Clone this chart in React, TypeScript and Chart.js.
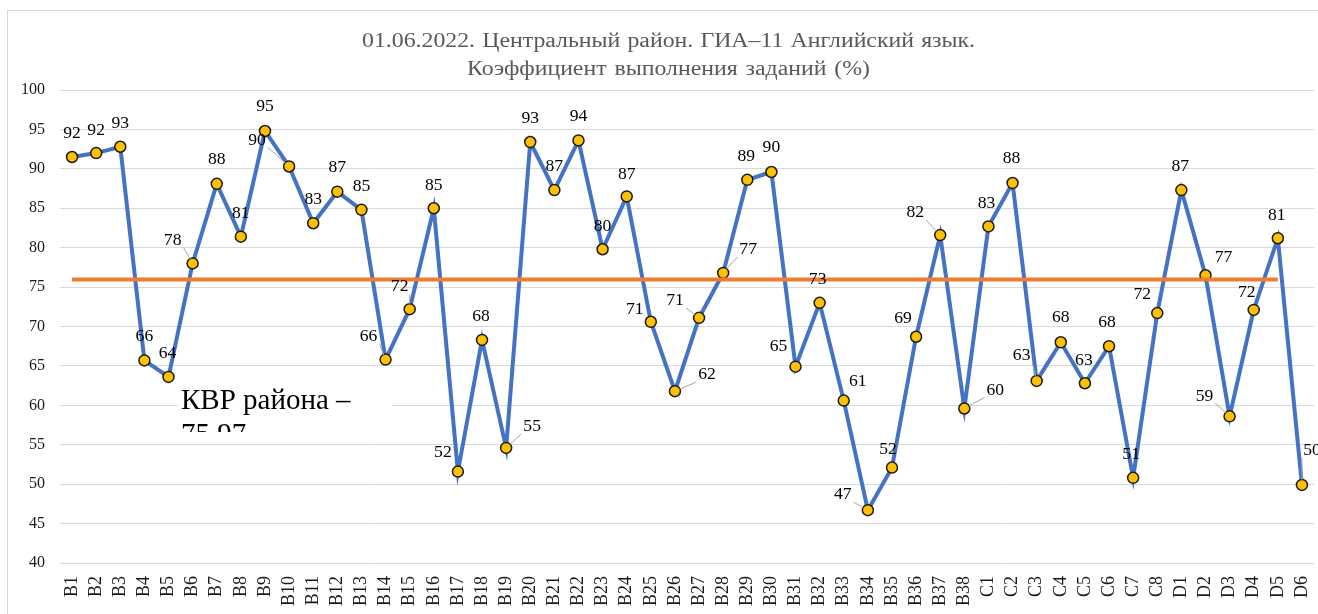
import React, { useEffect, useRef } from 'react';
import { Chart, registerables } from 'chart.js';

Chart.register(...registerables);

const FONT = "'Liberation Serif', 'Times New Roman', serif";

const titleLine1 = '01.06.2022. Центральный район. ГИА–11 Английский язык.';
const titleLine2 = 'Коэффициент выполнения заданий (%)';

const categories = [
  'B1', 'B2', 'B3', 'B4', 'B5', 'B6', 'B7', 'B8', 'B9', 'B10',
  'B11', 'B12', 'B13', 'B14', 'B15', 'B16', 'B17', 'B18', 'B19', 'B20',
  'B21', 'B22', 'B23', 'B24', 'B25', 'B26', 'B27', 'B28', 'B29', 'B30',
  'B31', 'B32', 'B33', 'B34', 'B35', 'B36', 'B37', 'B38',
  'C1', 'C2', 'C3', 'C4', 'C5', 'C6', 'C7', 'C8',
  'D1', 'D2', 'D3', 'D4', 'D5', 'D6',
];

const taskValues = [
  91.5, 92.0, 92.8, 65.7, 63.6, 78.0, 88.1, 81.4, 94.8, 90.3,
  83.1, 87.1, 84.8, 65.8, 72.2, 85.0, 51.6, 68.3, 54.6, 93.4,
  87.3, 93.6, 79.8, 86.5, 70.6, 61.8, 71.1, 76.8, 88.6, 89.6,
  64.9, 73.0, 60.6, 46.7, 52.1, 68.7, 81.6, 59.6,
  82.7, 88.2, 63.1, 68.0, 62.8, 67.5, 50.8, 71.7,
  87.3, 76.5, 58.6, 72.1, 81.2, 49.9,
];

const districtAverage = 75.97;
// the district line runs from B1 to D5
const averageSeries = [
  75.97, 75.97, 75.97, 75.97, 75.97, 75.97, 75.97, 75.97, 75.97, 75.97,
  75.97, 75.97, 75.97, 75.97, 75.97, 75.97, 75.97, 75.97, 75.97, 75.97,
  75.97, 75.97, 75.97, 75.97, 75.97, 75.97, 75.97, 75.97, 75.97, 75.97,
  75.97, 75.97, 75.97, 75.97, 75.97, 75.97, 75.97, 75.97,
  75.97, 75.97, 75.97, 75.97, 75.97, 75.97, 75.97, 75.97,
  75.97, 75.97, 75.97, 75.97, 75.97, null,
];

const yTicks = { min: 40, max: 100, step: 5 };

// label placement (layout only): [dx, dy, leader]
const labelPlacement: [number, number, boolean][] = [
  [0, -23, false], [0, -22, false], [0, -23, false], [0, -24, false], [-1, -23, false],
  [-20, -23, true], [0, -24, false], [0, -23, false], [0, -24, false], [-32, -26, true],
  [0, -23, false], [0, -24, false], [0, -23, false], [-17, -23, true], [-10, -22, true],
  [0, -22, false], [-15, -19, false], [-1, -23, false], [26, -21, true], [0, -23, false],
  [0, -23, false], [0, -24, false], [0, -22, false], [0, -22, false], [-16, -12, false],
  [32, -16, true], [-24, -17, true], [25, -23, true], [-1, -23, false], [0, -24, false],
  [-17, -20, false], [-2, -23, false], [14, -19, false], [-25, -15, true], [-4, -18, false],
  [-13, -18, false], [-25, -22, true], [31, -18, true],
  [-2, -23, false], [-1, -24, false], [-15, -25, true], [0, -24, false], [-1, -22, false],
  [-2, -23, false], [-2, -23, false], [-15, -18, false],
  [-1, -23, false], [18, -17, false], [-25, -20, true], [-7, -17, false], [-1, -22, false],
  [10, -34, true],
];

function drawJustified(
  ctx: CanvasRenderingContext2D,
  text: string,
  left: number,
  right: number,
  y: number,
  sx: number
) {
  const words = text.split(' ');
  const widths = words.map((w) => ctx.measureText(w).width * sx);
  const total = widths.reduce((a, b) => a + b, 0);
  const gap = words.length > 1 ? (right - left - total) / (words.length - 1) : 0;
  let x = left;
  ctx.textAlign = 'left';
  words.forEach((w, i) => {
    ctx.save();
    ctx.translate(x, y);
    ctx.scale(sx, 1);
    ctx.fillText(w, 0, 0);
    ctx.restore();
    x += widths[i] + gap;
  });
}

const decorPlugin = {
  id: 'decor',
  beforeDraw(chart: any) {
    const ctx: CanvasRenderingContext2D = chart.ctx;
    ctx.save();
    ctx.fillStyle = '#ffffff';
    ctx.fillRect(0, 0, chart.width, chart.height);
    ctx.strokeStyle = '#d9d9d9';
    ctx.lineWidth = 1;
    ctx.strokeRect(7.5, 10.5, 1400, 700);
    ctx.fillStyle = '#595959';
    ctx.font = `20px ${FONT}`;
    ctx.textBaseline = 'alphabetic';
    drawJustified(ctx, titleLine1, 362, 975, 47, 1.19);
    drawJustified(ctx, titleLine2, 467, 870, 75, 1.19);
    ctx.restore();
  },
  afterDatasetsDraw(chart: any) {
    const ctx: CanvasRenderingContext2D = chart.ctx;
    const meta = chart.getDatasetMeta(1);
    const sx = 1.1;
    ctx.save();
    ctx.font = `16px ${FONT}`;
    ctx.textAlign = 'center';
    ctx.textBaseline = 'middle';
    meta.data.forEach((pt: any, i: number) => {
      const v = taskValues[i];
      const [dx, dy, leader] = labelPlacement[i] || [0, -23, false];
      const lx = pt.x + dx;
      const ly = pt.y + dy;
      const txt = String(Math.round(v));
      const w = ctx.measureText(txt).width * sx;
      if (leader) {
        const cx = Math.min(Math.max(pt.x, lx - w / 2 - 2), lx + w / 2 + 2);
        const cy = Math.min(Math.max(pt.y, ly - 7), ly + 7);
        const ddx = pt.x - cx;
        const ddy = pt.y - cy;
        const len = Math.hypot(ddx, ddy);
        if (len > 8) {
          const ex = pt.x - (ddx / len) * 5;
          const ey = pt.y - (ddy / len) * 5;
          ctx.strokeStyle = '#a6a6a6';
          ctx.lineWidth = 1;
          ctx.beginPath();
          ctx.moveTo(cx, cy);
          ctx.lineTo(ex, ey);
          ctx.stroke();
        }
      }
      ctx.fillStyle = '#000000';
      ctx.save();
      ctx.translate(lx, ly);
      ctx.scale(sx, 1);
      ctx.fillText(txt, 0, 0);
      ctx.restore();
    });
    ctx.restore();
  },
  afterDraw(chart: any) {
    const ctx: CanvasRenderingContext2D = chart.ctx;
    ctx.save();
    ctx.fillStyle = '#ffffff';
    ctx.fillRect(178, 382, 214, 50);
    ctx.beginPath();
    ctx.rect(178, 382, 214, 50);
    ctx.clip();
    ctx.fillStyle = '#000000';
    ctx.font = `29px ${FONT}`;
    ctx.textAlign = 'left';
    ctx.textBaseline = 'alphabetic';
    ctx.fillText('КВР района –', 181, 409);
    ctx.fillText(districtAverage.toFixed(2).replace('.', ','), 181, 443);
    ctx.restore();
  },
};

export default function App() {
  const ref = useRef<HTMLCanvasElement>(null);
  useEffect(() => {
    if (!ref.current) return;
    const chart = new Chart(ref.current, {
      type: 'line',
      data: {
        labels: categories,
        datasets: [
          {
            label: 'КВР района',
            data: averageSeries,
            borderColor: '#ED7D31',
            borderWidth: 4,
            pointRadius: 0,
            fill: false,
            tension: 0,
          },
          {
            label: 'Коэффициент выполнения',
            data: taskValues,
            borderColor: '#4472C4',
            borderWidth: 4,
            pointRadius: 5.5,
            pointBackgroundColor: '#FFC000',
            pointBorderColor: '#1a1a1a',
            pointBorderWidth: 1.5,
            fill: false,
            tension: 0,
          },
        ],
      } as any,
      options: {
        responsive: false,
        animation: false,
        devicePixelRatio: 1,
        layout: { autoPadding: false, padding: { top: 90, right: 4, left: 0, bottom: 0 } },
        plugins: {
          legend: { display: false },
          title: { display: false },
          tooltip: { enabled: false },
        },
        scales: {
          x: {
            type: 'category',
            offset: true,
            grid: { display: false },
            border: { display: false },
            ticks: {
              autoSkip: false,
              minRotation: 90,
              maxRotation: 90,
              padding: 5,
              color: '#1a1a1a',
              font: { family: FONT, size: 18 },
            },
            afterFit: (s: any) => {
              s.height = 51;
              s.paddingLeft = 0;
              s.paddingRight = 0;
            },
          },
          y: {
            min: yTicks.min,
            max: yTicks.max,
            grid: { color: '#d9d9d9', lineWidth: 1, drawTicks: false },
            border: { display: false },
            ticks: {
              stepSize: yTicks.step,
              padding: 15,
              color: '#1a1a1a',
              font: { family: FONT, size: 16 },
            },
            afterFit: (s: any) => {
              s.width = 60;
            },
          },
        },
      } as any,
      plugins: [decorPlugin],
    });
    return () => chart.destroy();
  }, []);
  return (
    <canvas
      ref={ref}
      width={1318}
      height={614}
      style={{ position: 'fixed', left: 0, top: 0, width: 1318, height: 614 }}
    />
  );
}
